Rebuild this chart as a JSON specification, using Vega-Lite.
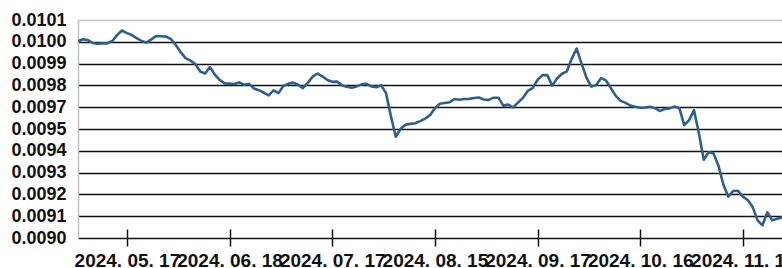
{
  "$schema": "https://vega.github.io/schema/vega-lite/v6.json",
  "width": 704,
  "height": 218,
  "autosize": {"type": "none"},
  "padding": {"left": 78, "top": 20, "right": 0, "bottom": 30},
  "config": {
    "view": {"stroke": null},
    "font": "Liberation Sans",
    "axis": {"labelFont": "Liberation Sans", "labelFontWeight": "bold", "labelFontSize": 18, "labelColor": "#111"}
  },
  "data": {"values": [
    {"d": "2024. 05. 03", "v": 0.009993},
    {"d": "2024. 05. 06", "v": 0.010003},
    {"d": "2024. 05. 07", "v": 0.009999},
    {"d": "2024. 05. 08", "v": 0.009984},
    {"d": "2024. 05. 09", "v": 0.009980},
    {"d": "2024. 05. 10", "v": 0.009982},
    {"d": "2024. 05. 13", "v": 0.009982},
    {"d": "2024. 05. 14", "v": 0.009994},
    {"d": "2024. 05. 15", "v": 0.010024},
    {"d": "2024. 05. 16", "v": 0.010047},
    {"d": "2024. 05. 17", "v": 0.010034},
    {"d": "2024. 05. 20", "v": 0.010024},
    {"d": "2024. 05. 21", "v": 0.010009},
    {"d": "2024. 05. 22", "v": 0.009994},
    {"d": "2024. 05. 23", "v": 0.009986},
    {"d": "2024. 05. 24", "v": 0.010002},
    {"d": "2024. 05. 27", "v": 0.010019},
    {"d": "2024. 05. 28", "v": 0.010018},
    {"d": "2024. 05. 29", "v": 0.010016},
    {"d": "2024. 05. 30", "v": 0.010004},
    {"d": "2024. 05. 31", "v": 0.009974},
    {"d": "2024. 06. 03", "v": 0.009938},
    {"d": "2024. 06. 04", "v": 0.009908},
    {"d": "2024. 06. 05", "v": 0.009895},
    {"d": "2024. 06. 07", "v": 0.009878},
    {"d": "2024. 06. 10", "v": 0.009840},
    {"d": "2024. 06. 11", "v": 0.009830},
    {"d": "2024. 06. 12", "v": 0.009862},
    {"d": "2024. 06. 13", "v": 0.009824},
    {"d": "2024. 06. 14", "v": 0.009797},
    {"d": "2024. 06. 17", "v": 0.009780},
    {"d": "2024. 06. 18", "v": 0.009779},
    {"d": "2024. 06. 19", "v": 0.009777},
    {"d": "2024. 06. 20", "v": 0.009785},
    {"d": "2024. 06. 21", "v": 0.009773},
    {"d": "2024. 06. 24", "v": 0.009778},
    {"d": "2024. 06. 25", "v": 0.009754},
    {"d": "2024. 06. 26", "v": 0.009746},
    {"d": "2024. 06. 27", "v": 0.009733},
    {"d": "2024. 06. 28", "v": 0.009720},
    {"d": "2024. 07. 01", "v": 0.009745},
    {"d": "2024. 07. 02", "v": 0.009731},
    {"d": "2024. 07. 03", "v": 0.009767},
    {"d": "2024. 07. 04", "v": 0.009778},
    {"d": "2024. 07. 05", "v": 0.009784},
    {"d": "2024. 07. 08", "v": 0.009773},
    {"d": "2024. 07. 09", "v": 0.009756},
    {"d": "2024. 07. 10", "v": 0.009783},
    {"d": "2024. 07. 11", "v": 0.009814},
    {"d": "2024. 07. 12", "v": 0.009830},
    {"d": "2024. 07. 15", "v": 0.009816},
    {"d": "2024. 07. 16", "v": 0.009797},
    {"d": "2024. 07. 17", "v": 0.009788},
    {"d": "2024. 07. 18", "v": 0.009789},
    {"d": "2024. 07. 19", "v": 0.009770},
    {"d": "2024. 07. 22", "v": 0.009763},
    {"d": "2024. 07. 23", "v": 0.009758},
    {"d": "2024. 07. 24", "v": 0.009765},
    {"d": "2024. 07. 25", "v": 0.009775},
    {"d": "2024. 07. 26", "v": 0.009778},
    {"d": "2024. 07. 29", "v": 0.009765},
    {"d": "2024. 07. 30", "v": 0.009761},
    {"d": "2024. 07. 31", "v": 0.009771},
    {"d": "2024. 08. 01", "v": 0.009731},
    {"d": "2024. 08. 02", "v": 0.009615},
    {"d": "2024. 08. 05", "v": 0.009511},
    {"d": "2024. 08. 06", "v": 0.009551},
    {"d": "2024. 08. 07", "v": 0.009572},
    {"d": "2024. 08. 08", "v": 0.009576},
    {"d": "2024. 08. 09", "v": 0.009579},
    {"d": "2024. 08. 12", "v": 0.009590},
    {"d": "2024. 08. 13", "v": 0.009602},
    {"d": "2024. 08. 14", "v": 0.009620},
    {"d": "2024. 08. 15", "v": 0.009655},
    {"d": "2024. 08. 16", "v": 0.009677},
    {"d": "2024. 08. 19", "v": 0.009681},
    {"d": "2024. 08. 20", "v": 0.009685},
    {"d": "2024. 08. 21", "v": 0.009701},
    {"d": "2024. 08. 22", "v": 0.009698},
    {"d": "2024. 08. 23", "v": 0.009701},
    {"d": "2024. 08. 26", "v": 0.009702},
    {"d": "2024. 08. 27", "v": 0.009706},
    {"d": "2024. 08. 28", "v": 0.009709},
    {"d": "2024. 08. 29", "v": 0.009699},
    {"d": "2024. 08. 30", "v": 0.009697},
    {"d": "2024. 09. 02", "v": 0.009708},
    {"d": "2024. 09. 03", "v": 0.009708},
    {"d": "2024. 09. 04", "v": 0.009668},
    {"d": "2024. 09. 05", "v": 0.009673},
    {"d": "2024. 09. 06", "v": 0.009659},
    {"d": "2024. 09. 09", "v": 0.009683},
    {"d": "2024. 09. 10", "v": 0.009707},
    {"d": "2024. 09. 11", "v": 0.009742},
    {"d": "2024. 09. 13", "v": 0.009756},
    {"d": "2024. 09. 17", "v": 0.009798},
    {"d": "2024. 09. 18", "v": 0.009822},
    {"d": "2024. 09. 19", "v": 0.009822},
    {"d": "2024. 09. 20", "v": 0.009769},
    {"d": "2024. 09. 23", "v": 0.009805},
    {"d": "2024. 09. 24", "v": 0.009829},
    {"d": "2024. 09. 25", "v": 0.009841},
    {"d": "2024. 09. 26", "v": 0.009905},
    {"d": "2024. 09. 27", "v": 0.009956},
    {"d": "2024. 09. 30", "v": 0.009880},
    {"d": "2024. 10. 01", "v": 0.009809},
    {"d": "2024. 10. 02", "v": 0.009764},
    {"d": "2024. 10. 03", "v": 0.009772},
    {"d": "2024. 10. 04", "v": 0.009807},
    {"d": "2024. 10. 07", "v": 0.009795},
    {"d": "2024. 10. 08", "v": 0.009756},
    {"d": "2024. 10. 09", "v": 0.009717},
    {"d": "2024. 10. 10", "v": 0.009692},
    {"d": "2024. 10. 11", "v": 0.009682},
    {"d": "2024. 10. 14", "v": 0.009668},
    {"d": "2024. 10. 15", "v": 0.009662},
    {"d": "2024. 10. 16", "v": 0.009657},
    {"d": "2024. 10. 17", "v": 0.009658},
    {"d": "2024. 10. 18", "v": 0.009662},
    {"d": "2024. 10. 21", "v": 0.009655},
    {"d": "2024. 10. 22", "v": 0.009641},
    {"d": "2024. 10. 23", "v": 0.009651},
    {"d": "2024. 10. 24", "v": 0.009654},
    {"d": "2024. 10. 25", "v": 0.009663},
    {"d": "2024. 10. 28", "v": 0.009655},
    {"d": "2024. 10. 29", "v": 0.009570},
    {"d": "2024. 10. 30", "v": 0.009595},
    {"d": "2024. 10. 31", "v": 0.009645},
    {"d": "2024. 11. 04", "v": 0.009529},
    {"d": "2024. 11. 05", "v": 0.009395},
    {"d": "2024. 11. 06", "v": 0.009433},
    {"d": "2024. 11. 07", "v": 0.009427},
    {"d": "2024. 11. 11", "v": 0.009365},
    {"d": "2024. 11. 12", "v": 0.009270},
    {"d": "2024. 11. 13", "v": 0.009209},
    {"d": "2024. 11. 14", "v": 0.009237},
    {"d": "2024. 11. 15", "v": 0.009238},
    {"d": "2024. 11. 18", "v": 0.009209},
    {"d": "2024. 11. 19", "v": 0.009192},
    {"d": "2024. 11. 20", "v": 0.009156},
    {"d": "2024. 11. 21", "v": 0.009089},
    {"d": "2024. 11. 22", "v": 0.009064},
    {"d": "2024. 11. 25", "v": 0.009130},
    {"d": "2024. 11. 26", "v": 0.009089},
    {"d": "2024. 11. 27", "v": 0.009097},
    {"d": "2024. 11. 28", "v": 0.009103}
  ]},
  "mark": {"type": "line", "color": "#2f5f8b", "strokeWidth": 2.6, "strokeJoin": "round", "clip": true},
  "encoding": {
    "x": {
      "field": "d",
      "type": "ordinal",
      "sort": null,
      "scale": {"type": "point", "padding": 0},
      "axis": {
        "title": null,
        "values": ["2024. 05. 17", "2024. 06. 18", "2024. 07. 17", "2024. 08. 15", "2024. 09. 17", "2024. 10. 16", "2024. 11. 18"],
        "labelAngle": 0,
        "labelFontSize": 19,
        "labelOverlap": false,
        "labelBound": false,
        "labelFlush": false,
        "domain": false,
        "grid": false,
        "offset": -9,
        "ticks": true,
        "tickSize": 17,
        "tickColor": "#111",
        "tickWidth": 1.5,
        "labelPadding": 5
      }
    },
    "y": {
      "field": "v",
      "type": "quantitative",
      "scale": {"domain": [0.009, 0.0101], "nice": false, "zero": false},
      "axis": {
        "title": null,
        "values": [0.009, 0.00911, 0.00922, 0.00933, 0.00944, 0.00955, 0.00966, 0.00977, 0.00988, 0.00999, 0.0101],
        "format": ".4f",
        "ticks": false,
        "labelPadding": 12,
        "domain": true,
        "domainColor": "#c0c0c0",
        "domainWidth": 1.5,
        "grid": true,
        "gridColor": {"condition": {"test": "datum.value > 0.01005", "value": "#c0c0c0"}, "value": "#111"},
        "gridWidth": 1.6,
        "gridOpacity": 1
      }
    }
  }
}
